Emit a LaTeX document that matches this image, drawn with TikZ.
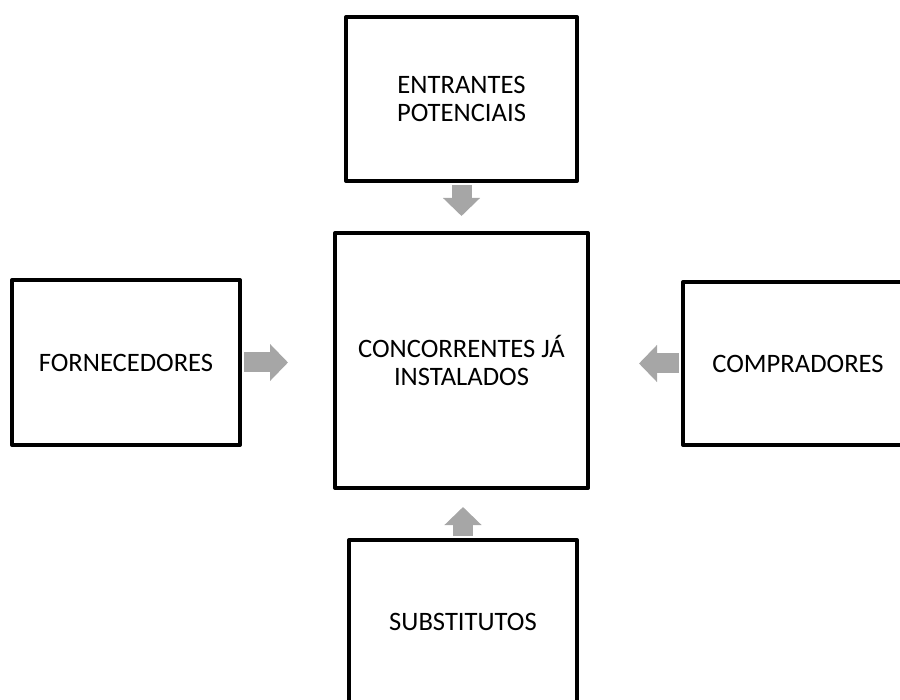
\documentclass[tikz,border=0pt]{standalone}
\usepackage{fontspec}
\setmainfont{Carlito}
\usetikzlibrary{arrows.meta}
\definecolor{arrowgray}{RGB}{166,166,166}

\begin{document}
\begin{tikzpicture}[x=0.5pt,y=-0.5pt,
  force/.style={draw,line width=2pt,line join=round,align=center,
    font=\fontsize{13.3}{14}\selectfont,inner sep=0pt},
  push/.style={arrowgray,line width=10pt,shorten <=1pt,
    -{Triangle[width=18pt,length=9pt]}}]
\useasboundingbox (0,0) rectangle (900,700);
\clip (0,0) rectangle (900,700);

\node[force,minimum width=253*0.5pt,minimum height=255*0.5pt] (rivals) at (461.5,360.5) {CONCORRENTES J\'A\\INSTALADOS};
\node[force,minimum width=231*0.5pt,minimum height=164*0.5pt] (entrants) at (461.5,99) {ENTRANTES\\POTENCIAIS};
\node[force,minimum width=228*0.5pt,minimum height=165*0.5pt] (suppliers) at (126,362.5) {FORNECEDORES};
\node[force,minimum width=230*0.5pt,minimum height=163*0.5pt] (buyers) at (798,363.5) {COMPRADORES};
\node[force,minimum width=228*0.5pt,minimum height=164*0.5pt] (substitutes) at (463,622) {SUBSTITUTOS};

\draw[push,shorten >=7.5pt] (entrants.south) -- (entrants.south |- rivals.north);
\draw[push,shorten >=22.5pt] (suppliers.east) -- (suppliers.east -| rivals.west);
\draw[push,shorten >=24.5pt] (buyers.west) -- (buyers.west -| rivals.east);
\draw[push,shorten >=8.5pt] (substitutes.north) -- (substitutes.north |- rivals.south);

\end{tikzpicture}
\end{document}
